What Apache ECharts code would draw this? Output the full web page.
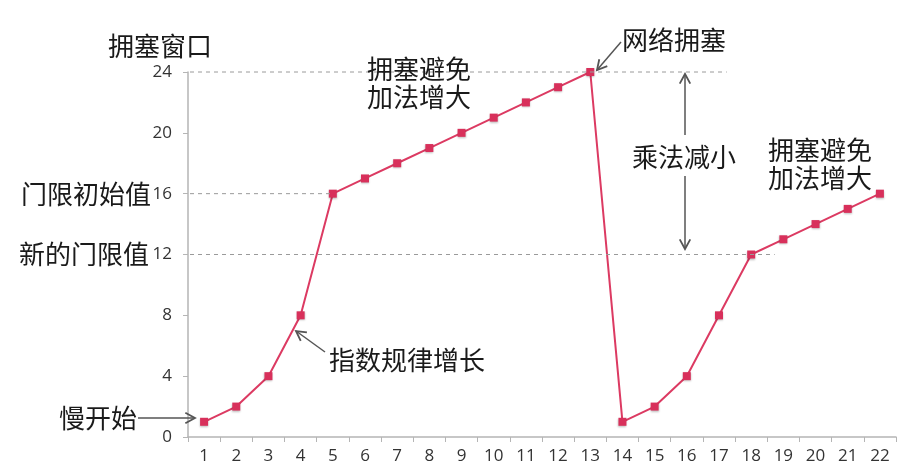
<!DOCTYPE html>
<html><head><meta charset="utf-8">
<script src="https://cdn.jsdelivr.net/npm/echarts@6/dist/echarts.min.js"></script>
<style>html,body{margin:0;padding:0;background:#fff}#c{width:913px;height:476px}</style>
</head><body><div id="c"></div>
<script>
const categories = ['1','2','3','4','5','6','7','8','9','10','11','12','13','14','15','16','17','18','19','20','21','22'];
const cwnd = [1,2,4,8,16,17,18,19,20,21,22,23,24,1,2,4,8,12,13,14,15,16];
const yTicks = [0,4,8,12,16,20,24];
const thresholds = [24,16,12];

const CJK = '"Noto Sans CJK SC","Microsoft YaHei",sans-serif';
const chart = echarts.init(document.getElementById('c'), null, {renderer:'canvas'});
chart.setOption({
  animation:false,
  backgroundColor:'#fff',
  grid:{left:188,right:17,top:72,bottom:39},
  xAxis:{type:'category',data:categories,boundaryGap:true,
    axisLine:{lineStyle:{color:'#b5b5b5',width:1.5}},
    axisTick:{show:true,length:5,lineStyle:{color:'#b5b5b5'}},
    axisLabel:{fontSize:17,color:'#333',margin:11,fontFamily:'"Open Sans",sans-serif'}},
  yAxis:{type:'value',min:yTicks[0],max:yTicks[yTicks.length-1],interval:4,
    splitLine:{show:false},
    axisLine:{show:true,lineStyle:{color:'#b5b5b5',width:1.5}},
    axisTick:{show:true,length:5,lineStyle:{color:'#b5b5b5'}},
    axisLabel:{fontSize:17,color:'#333',margin:16,fontFamily:'"Open Sans",sans-serif'}},
  series:[{type:'line',data:cwnd,symbol:'rect',symbolSize:8,smooth:false,
    itemStyle:{color:'#d8305b',shadowColor:'rgba(0,0,0,0.25)',shadowBlur:2,shadowOffsetY:1},
    lineStyle:{color:'#dc3a62',width:2}}]
});

// helpers using the chart's own scales
const xPix = i => chart.convertToPixel({xAxisIndex:0}, i);
const yPix = v => chart.convertToPixel({yAxisIndex:0}, v);
const xFrac = f => { const a = xPix(0), b = xPix(1); return a + (b - a) * f; };

const g = [];
const gray = '#555';
function arrow(x1,y1,x2,y2){
  const ang = Math.atan2(y2-y1,x2-x1), L=11, A=0.5;
  g.push({type:'line',shape:{x1,y1,x2,y2},style:{stroke:gray,lineWidth:1.5},z:50});
  g.push({type:'polyline',shape:{points:[[x2-L*Math.cos(ang-A),y2-L*Math.sin(ang-A)],[x2,y2],[x2-L*Math.cos(ang+A),y2-L*Math.sin(ang+A)]]},style:{stroke:gray,lineWidth:1.8,fill:null},z:50});
}
function text(t,x,y,align){
  g.push({type:'text',x,y,style:{text:t,font:'26px '+CJK,fill:'#1a1a1a',textAlign:align||'left',textVerticalAlign:'middle',lineHeight:28},z:60});
}
// dashed threshold lines
const ends = [xFrac(16.24), xFrac(4), xFrac(17.73)];
thresholds.forEach((v,i)=>{
  const y = yPix(v);
  g.push({type:'line',shape:{x1:190,y1:y,x2:ends[i],y2:y},style:{stroke:'#9a9a9a',lineWidth:1,lineDash:[4,4]},z:5});
});
// texts
text('拥塞窗口',108,46);
text('门限初始值',151,194,'right');
text('新的门限值',149,254,'right');
text('慢开始',59,418);
text('指数规律增长',329,360);
text('拥塞避免\n加法增大',419,83,'center');
text('网络拥塞',622,40);
text('乘法减小',632,157);
text('拥塞避免\n加法增大',820,164,'center');
// arrows
arrow(138,418,195,418);
arrow(325,352,296,331);
arrow(621,42,597,70);
arrow(685,135,685,74);
arrow(685,176,685,249);

chart.setOption({graphic:g});
</script></body></html>
